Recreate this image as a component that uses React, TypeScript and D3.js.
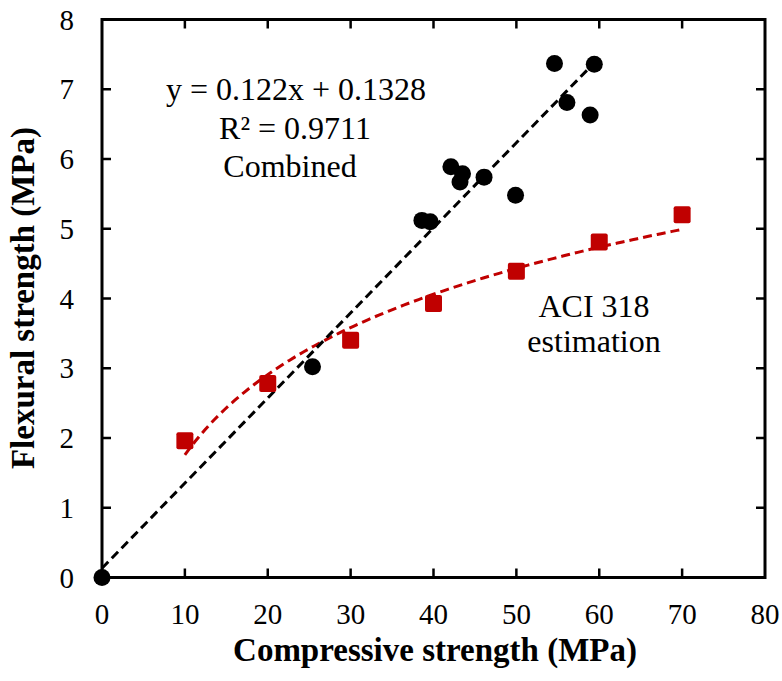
import React from "react";
import * as d3 from "d3";

// Measured specimens: compressive vs flexural strength (MPa)
const combinedX = [0, 25.4, 38.6, 39.6, 42.1, 43.2, 43.5, 46.1, 49.9, 54.6, 56.1, 58.9, 59.4];
const combinedY = [0, 3.02, 5.12, 5.1, 5.89, 5.67, 5.79, 5.74, 5.48, 7.37, 6.81, 6.63, 7.36];

// ACI 318 estimate of flexural strength
const aciX = [10, 20, 30, 40, 50, 60, 70];
const aciY = [1.96, 2.78, 3.4, 3.93, 4.39, 4.81, 5.2];

// Linear fit of the combined data, as reported
const fitSlope = 0.122;
const fitIntercept = 0.1328;
const fitR2 = 0.9711;

const xTicks = [0, 10, 20, 30, 40, 50, 60, 70, 80];
const yTicks = [0, 1, 2, 3, 4, 5, 6, 7, 8];

const W = 782;
const H = 681;
const M = { left: 102, right: 765, top: 19.5, bottom: 577.5 };
const FONT = "'Liberation Serif', 'Times New Roman', serif";
const RED = "#C00000";

export default function App() {
  const x = d3.scaleLinear().domain([0, 80]).range([M.left, M.right]);
  const y = d3.scaleLinear().domain([0, 8]).range([M.bottom, M.top]);

  // Logarithmic trendline through the ACI points: y = a ln(x) + b
  const lx = aciX.map((v) => Math.log(v));
  const mx = d3.mean(lx)!;
  const my = d3.mean(aciY)!;
  const a =
    d3.sum(lx, (v, i) => (v - mx) * (aciY[i] - my)) / d3.sum(lx, (v) => (v - mx) ** 2);
  const b = my - a * mx;
  const [lo, hi] = d3.extent(aciX) as [number, number];
  const logPts = d3.range(0, 101).map((i) => {
    const xv = lo + ((hi - lo) * i) / 100;
    return [xv, a * Math.log(xv) + b] as [number, number];
  });
  const line = d3
    .line<[number, number]>()
    .x((d) => x(d[0]))
    .y((d) => y(d[1]));

  const [cx0, cx1] = d3.extent(combinedX) as [number, number];
  const linPts: [number, number][] = [
    [cx0, fitSlope * cx0 + fitIntercept],
    [cx1, fitSlope * cx1 + fitIntercept],
  ];

  const tickLen = 9;
  const sq = 17;

  return (
    <svg
      width={W}
      height={H}
      style={{ position: "absolute", left: 0, top: 0, background: "#fff" }}
      fontFamily={FONT}
    >
      {/* plot frame */}
      <rect
        x={M.left}
        y={M.top}
        width={M.right - M.left}
        height={M.bottom - M.top}
        fill="none"
        stroke="#000"
        strokeWidth={3}
      />
      {/* inward ticks on all sides */}
      {xTicks.slice(1, -1).map((t) => (
        <g key={"xt" + t} stroke="#000" strokeWidth={2.5}>
          <line x1={x(t)} x2={x(t)} y1={M.bottom} y2={M.bottom - tickLen} />
          <line x1={x(t)} x2={x(t)} y1={M.top} y2={M.top + tickLen} />
        </g>
      ))}
      {yTicks.slice(1, -1).map((t) => (
        <g key={"yt" + t} stroke="#000" strokeWidth={2.5}>
          <line x1={M.left} x2={M.left + tickLen} y1={y(t)} y2={y(t)} />
          <line x1={M.right} x2={M.right - tickLen} y1={y(t)} y2={y(t)} />
        </g>
      ))}
      {/* tick labels */}
      {xTicks.map((t) => (
        <text key={"xl" + t} x={x(t)} y={624} fontSize={29} textAnchor="middle" fill="#000">
          {t}
        </text>
      ))}
      {yTicks.map((t) => (
        <text
          key={"yl" + t}
          x={74}
          y={y(t) + 10}
          fontSize={29}
          textAnchor="end"
          fill="#000"
        >
          {t}
        </text>
      ))}
      {/* axis titles */}
      <text x={435} y={661} fontSize={33} fontWeight="bold" textAnchor="middle" fill="#000">
        Compressive strength (MPa)
      </text>
      <text
        transform={`translate(34, ${298}) rotate(-90)`}
        fontSize={33}
        fontWeight="bold"
        textAnchor="middle"
        fill="#000"
      >
        Flexural strength (MPa)
      </text>

      {/* trendlines */}
      <path
        d={line(logPts)!}
        fill="none"
        stroke={RED}
        strokeWidth={3}
        strokeDasharray="9 5"
      />
      <path
        d={line(linPts)!}
        fill="none"
        stroke="#000"
        strokeWidth={3}
        strokeDasharray="9 5"
      />

      {/* ACI markers */}
      {aciX.map((v, i) => (
        <rect
          key={"a" + i}
          x={x(v) - sq / 2}
          y={y(aciY[i]) - sq / 2}
          width={sq}
          height={sq}
          rx={2}
          fill={RED}
        />
      ))}
      {/* combined markers */}
      {combinedX.map((v, i) => (
        <circle key={"c" + i} cx={x(v)} cy={y(combinedY[i])} r={8.5} fill="#000" />
      ))}

      {/* annotations */}
      <g fontSize={32} textAnchor="middle" fill="#000">
        <text x={296} y={100}>
          {`y = ${fitSlope}x + ${fitIntercept}`}
        </text>
        <text x={295} y={139}>
          {`R² = ${fitR2}`}
        </text>
        <text x={290} y={177}>
          Combined
        </text>
        <text x={594} y={317}>
          ACI 318
        </text>
        <text x={594} y={352}>
          estimation
        </text>
      </g>
    </svg>
  );
}
